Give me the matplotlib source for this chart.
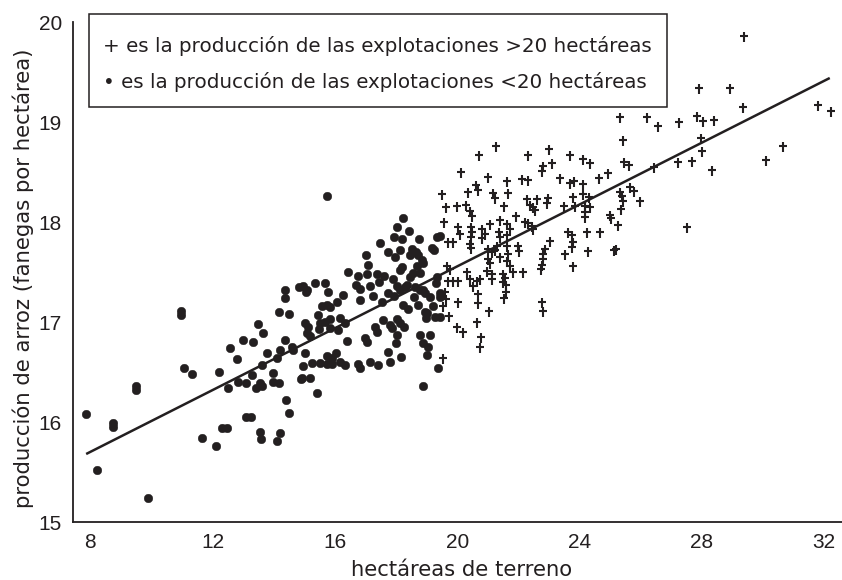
import matplotlib
matplotlib.use("Agg")
import matplotlib.pyplot as plt
from matplotlib.path import Path
from matplotlib.patches import Rectangle

plt.rcParams['font.family'] = ['Liberation Sans', 'DejaVu Sans']

INK = '#231f20'

# explotaciones < 20 hectáreas (puntos)
small_x = [7.87, 8.23, 8.75, 8.75, 9.90, 9.50, 9.50, 10.97, 10.97, 11.07, 11.33, 11.66, 12.12, 12.31, 12.48,
           12.22, 12.51, 12.58, 12.80, 12.84, 13.10, 13.00, 13.10, 13.26, 13.33, 13.49, 13.65, 13.29, 13.42,
           13.56, 13.62, 13.56, 13.59, 13.78, 13.98, 13.98, 14.18, 14.11, 14.21, 14.37, 14.18, 14.37, 14.37,
           14.50, 14.63, 14.83, 15.06, 15.03, 15.03, 14.96, 14.90, 14.41, 14.50, 14.11, 14.21, 15.42, 15.19,
           13.62, 15.75, 18.23, 18.03, 18.42, 17.93, 18.20, 18.75, 17.48, 19.34, 19.44, 19.24, 18.52, 17.74,
           18.13, 18.46, 18.72, 17.97, 17.02, 18.85, 18.88, 18.69, 17.08, 18.13, 18.78, 16.43, 16.76, 17.05,
           17.38, 17.61, 17.90, 18.46, 18.03, 18.29, 19.34, 19.31, 16.69, 17.15, 17.44, 16.82, 17.74, 17.93,
           18.59, 18.88, 19.11, 19.44, 16.27, 17.25, 16.82, 17.54, 18.23, 18.39, 18.72, 19.21, 19.01, 19.27,
           19.44, 14.96, 15.09, 15.35, 15.68, 15.78, 15.58, 15.75, 15.84, 16.07, 15.45, 15.12, 15.52, 15.68,
           15.84, 16.17, 16.33, 15.48, 15.84, 16.10, 15.09, 15.19, 16.99, 17.05, 17.31, 17.38, 17.58, 17.80,
           17.87, 18.03, 18.13, 18.26, 18.03, 18.00, 18.78, 19.11, 18.88, 19.05, 19.01, 19.37, 14.60, 15.25,
           15.52, 15.75, 15.91, 16.04, 16.17, 16.33, 15.75, 15.91, 16.40, 16.76, 16.82, 17.15, 17.41, 17.80,
           18.16, 17.74, 14.93, 18.88, 18.95, 18.98, 18.13, 18.78, 18.65, 19.18, 18.56, 18.20, 18.36, 18.62,
           18.95, 19.44]
small_y = [16.08, 15.52, 15.99, 15.95, 15.24, 16.36, 16.32, 17.11, 17.07, 16.54, 16.48, 15.84, 15.76, 15.94, 15.94,
           16.50, 16.34, 16.74, 16.63, 16.40, 16.39, 16.82, 16.05, 16.05, 16.80, 16.98, 16.89, 16.47, 16.34,
           16.39, 16.57, 15.90, 15.83, 16.69, 16.49, 16.40, 16.39, 16.64, 16.72, 16.82, 17.10, 17.32, 17.24,
           17.08, 16.72, 17.35, 17.30, 16.99, 16.69, 16.56, 16.43, 16.22, 16.09, 15.81, 15.89, 16.29, 16.44,
           16.36, 18.26, 18.04, 17.95, 17.91, 17.85, 17.83, 17.83, 17.79, 17.85, 17.86, 17.72, 17.73, 17.70,
           17.72, 17.67, 17.67, 17.65, 17.67, 17.62, 17.59, 17.56, 17.57, 17.52, 17.49, 17.50, 17.46, 17.48,
           17.48, 17.46, 17.43, 17.45, 17.36, 17.35, 17.45, 17.39, 17.37, 17.36, 17.40, 17.33, 17.29, 17.26,
           17.25, 17.32, 17.25, 17.29, 17.27, 17.26, 17.22, 17.20, 17.17, 17.13, 17.17, 17.16, 17.09, 17.05,
           17.05, 17.36, 17.32, 17.39, 17.39, 17.30, 17.16, 17.17, 17.15, 17.20, 17.07, 16.95, 16.99, 17.00,
           17.03, 17.04, 16.99, 16.93, 16.94, 16.92, 16.89, 16.86, 16.84, 16.80, 16.95, 16.90, 17.02, 16.97,
           16.94, 17.03, 16.99, 16.95, 16.87, 16.79, 16.87, 16.87, 16.79, 16.75, 16.67, 16.54, 16.75, 16.59,
           16.59, 16.66, 16.64, 16.69, 16.60, 16.57, 16.58, 16.58, 16.81, 16.58, 16.54, 16.60, 16.57, 16.60,
           16.65, 16.70, 16.44, 16.36, 17.10, 17.04, 17.32, 17.32, 17.70, 17.74, 17.49, 17.55, 17.37, 17.35,
           17.29, 17.25]

# explotaciones > 20 hectáreas (cruces)
large_x = [21.27, 20.71, 22.31, 23.00, 23.69, 24.11, 24.34, 22.80, 23.10, 22.77, 20.12, 21.01, 20.61, 20.68,
           21.63, 22.12, 22.31, 23.36, 23.69, 23.82, 24.11, 24.63, 24.93, 19.50, 20.35, 21.17, 21.23, 21.66,
           22.28, 22.61, 22.97, 24.11, 24.31, 23.78, 19.63, 19.99, 20.29, 20.42, 20.48, 21.53, 22.38, 22.48,
           22.54, 22.93, 23.49, 23.85, 24.18, 24.34, 24.18, 24.18, 24.99, 25.03, 19.57, 21.40, 21.63, 21.92,
           22.21, 22.31, 22.44, 22.48, 20.03, 20.09, 20.45, 20.48, 20.45, 20.81, 20.91, 21.07, 21.37, 21.40,
           21.73, 21.63, 23.62, 23.75, 24.24, 24.67, 25.25, 19.70, 19.86, 20.42, 20.45, 20.81, 21.01, 21.14,
           21.23, 21.30, 21.63, 21.66, 21.99, 22.02, 23.03, 22.87, 22.80, 23.78, 23.75, 24.27, 25.12, 23.52,
           22.80, 21.01, 21.07, 21.40, 21.63, 21.73, 22.77, 22.74, 23.78, 19.67, 19.76, 20.32, 20.97, 21.14,
           21.50, 21.56, 21.82, 22.15, 19.70, 19.86, 20.03, 20.42, 20.52, 20.65, 20.75, 21.14, 21.50, 21.59,
           19.60, 19.63, 20.03, 20.68, 20.68, 21.59, 21.53, 19.54, 19.73, 21.04, 22.77, 22.80, 19.99, 20.19,
           20.65, 20.78, 20.75, 19.54, 29.37, 27.90, 28.92, 29.34, 31.79, 32.22, 25.32, 26.20, 26.56, 27.25,
           27.84, 28.03, 28.39, 25.42, 27.97, 28.00, 30.65, 30.09, 25.45, 25.61, 26.43, 27.21, 27.67, 28.33,
           25.65, 25.78, 25.32, 25.38, 25.42, 25.97, 25.35, 27.51, 25.19]
large_y = [18.75, 18.66, 18.66, 18.72, 18.66, 18.62, 18.58, 18.55, 18.58, 18.50, 18.49, 18.44, 18.36, 18.31,
           18.40, 18.42, 18.41, 18.43, 18.38, 18.40, 18.37, 18.43, 18.48, 18.27, 18.29, 18.28, 18.23, 18.28,
           18.22, 18.22, 18.23, 18.27, 18.24, 18.24, 18.14, 18.15, 18.16, 18.10, 18.05, 18.15, 18.16, 18.14,
           18.11, 18.18, 18.15, 18.15, 18.15, 18.14, 18.09, 18.04, 18.06, 18.03, 17.99, 18.01, 17.97, 18.05,
           17.99, 17.98, 17.95, 17.92, 17.94, 17.87, 17.94, 17.89, 17.84, 17.92, 17.87, 17.97, 17.89, 17.84,
           17.92, 17.86, 17.89, 17.86, 17.89, 17.89, 17.96, 17.79, 17.79, 17.77, 17.73, 17.83, 17.72, 17.69,
           17.71, 17.75, 17.75, 17.67, 17.75, 17.70, 17.80, 17.72, 17.67, 17.79, 17.74, 17.70, 17.71, 17.67,
           17.62, 17.62, 17.58, 17.64, 17.60, 17.55, 17.56, 17.52, 17.55, 17.55, 17.52, 17.49, 17.50, 17.47,
           17.47, 17.43, 17.49, 17.49, 17.40, 17.40, 17.40, 17.42, 17.35, 17.40, 17.42, 17.42, 17.39, 17.36,
           17.29, 17.22, 17.19, 17.27, 17.18, 17.29, 17.23, 17.15, 17.05, 17.10, 17.19, 17.10, 16.94, 16.89,
           16.99, 16.84, 16.74, 16.63, 19.85, 19.33, 19.33, 19.14, 19.16, 19.10, 19.04, 19.04, 18.95, 18.99,
           19.05, 19.00, 19.01, 18.81, 18.83, 18.70, 18.75, 18.61, 18.59, 18.56, 18.54, 18.59, 18.60, 18.51,
           18.34, 18.30, 18.29, 18.25, 18.20, 18.20, 18.12, 17.94, 17.72]

# recta de regresión
line_x = [7.87, 32.18]
line_y = [15.68, 19.44]

x_ticks = [8, 12, 16, 20, 24, 28, 32]
y_ticks = [15, 16, 17, 18, 19, 20]

legend_lines = ["+ es la producción de las explotaciones >20 hectáreas",
                "• es la producción de las explotaciones <20 hectáreas"]
x_label = "hectáreas de terreno"
y_label = "producción de arroz (fanegas por hectárea)"

LABEL_FONT = ['DejaVu Sans']

W, H = 842, 580
fig = plt.figure(figsize=(W / 100, H / 100), dpi=100)
ax = fig.add_axes([73 / W, 1 - 522 / H, (W - 73) / W, (522 - 22) / H])

cross = Path([(-0.85, 0.2), (0.85, 0.2), (0, 1), (0, -1)],
             [Path.MOVETO, Path.LINETO, Path.MOVETO, Path.LINETO])

ax.plot(small_x, small_y, linestyle='none', marker='o', markersize=6.2,
        markerfacecolor=INK, markeredgecolor=INK, markeredgewidth=0.3, zorder=3)
ax.plot(large_x, large_y, linestyle='none', marker=cross, markersize=7.5,
        markeredgecolor=INK, markerfacecolor='none', markeredgewidth=1.5, zorder=3)
ax.plot(line_x, line_y, color=INK, linewidth=1.8, zorder=4, solid_capstyle='butt')

ax.set_xlim(7.44, 32.58)
ax.set_ylim(15, 20)
ax.set_xticks(x_ticks)
ax.set_yticks(y_ticks)
ax.tick_params(length=0, labelsize=15, colors=INK, pad=8)
for lbl in ax.get_xticklabels() + ax.get_yticklabels():
    lbl.set_family(['Liberation Sans'])
for s in ['top', 'right']:
    ax.spines[s].set_visible(False)
for s in ['left', 'bottom']:
    ax.spines[s].set_color(INK)
    ax.spines[s].set_linewidth(1.3)

ax.set_xlabel(x_label, fontsize=15.2, color=INK, family=LABEL_FONT, va='center', ha='center')
ax.xaxis.set_label_coords((462 - 73) / 769, -(570 - 522) / 500)
ax.set_ylabel(y_label, fontsize=15.3, color=INK, family=LABEL_FONT, va='center', ha='center')
ax.yaxis.set_label_coords(-(73 - 23) / 769, (522 - 278) / 500)

# cuadro de leyenda
fig.patches.append(Rectangle((89 / W, 1 - 107 / H), (667 - 89) / W, (107 - 14) / H,
                             transform=fig.transFigure, facecolor='white',
                             edgecolor=INK, linewidth=1.1, zorder=5))
fig.text(103 / W, 1 - 46 / H, legend_lines[0], fontsize=14.3, color=INK, family=LABEL_FONT,
         va='center', ha='left', zorder=6)
fig.text(103 / W, 1 - 82 / H, legend_lines[1], fontsize=14.3, color=INK, family=LABEL_FONT,
         va='center', ha='left', zorder=6)

fig.savefig("out.png", dpi=100)
